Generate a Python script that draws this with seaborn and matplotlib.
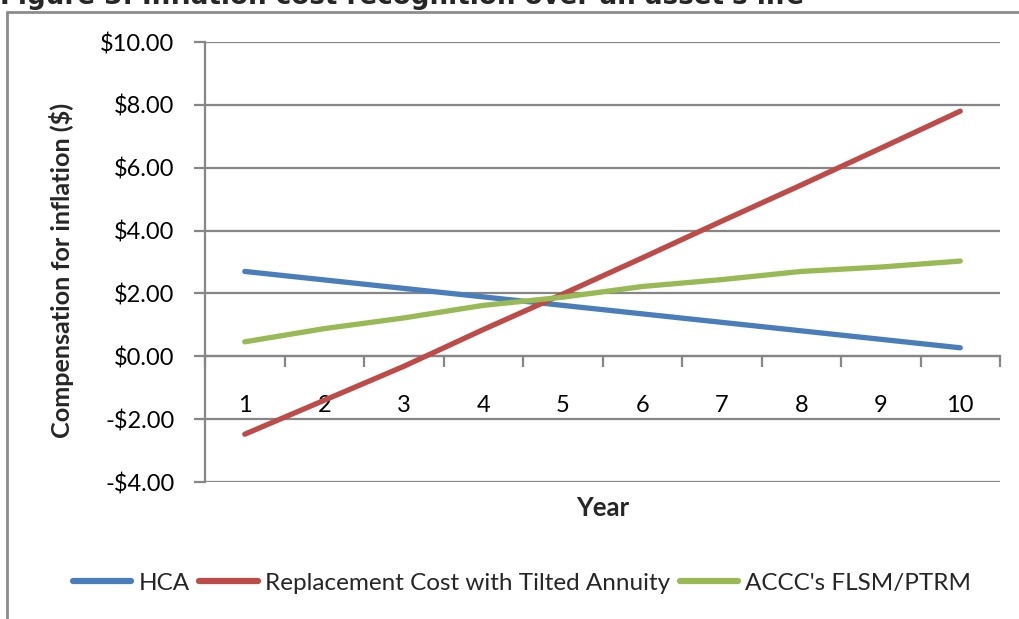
import matplotlib
matplotlib.use("Agg")
import matplotlib.pyplot as plt
from matplotlib.lines import Line2D
from matplotlib.patches import Rectangle
import numpy as np
import pandas as pd
import seaborn as sns

# Yearly compensation for inflation under three regulatory approaches
years = list(range(1, 11))
hca = [2.70, 2.43, 2.16, 1.89, 1.62, 1.35, 1.08, 0.81, 0.54, 0.27]
replacement = [-2.48, -1.40, -0.32, 0.85, 1.98, 3.13, 4.30, 5.45, 6.62, 7.80]
accc = [0.46, 0.88, 1.22, 1.62, 1.88, 2.22, 2.44, 2.70, 2.84, 3.03]

series_names = ["HCA", "Replacement Cost with Tilted Annuity", "ACCC's FLSM/PTRM"]
series_colors = ["#4A7EBB", "#BE4B48", "#98B954"]
y_ticks = [-4, -2, 0, 2, 4, 6, 8, 10]

title = "Figure 3: Inflation cost recognition over an asset's life"
y_title = "Compensation for inflation ($)"
x_title = "Year"

df = pd.DataFrame({
    "Year": years * 3,
    "Value": hca + replacement + accc,
    "Series": [n for n in series_names for _ in years],
})

sns.set_theme(style="white")
plt.rcParams["font.family"] = ["Lato", "DejaVu Sans"]

W, H = 1020, 619
fig = plt.figure(figsize=(W / 100, H / 100), dpi=100)
ax = fig.add_axes([205 / W, 1 - 482 / H, (1000 - 205) / W, (482 - 42) / H])

sns.lineplot(data=df, x="Year", y="Value", hue="Series", palette=series_colors,
             hue_order=series_names, linewidth=3.8, ax=ax, legend=False,
             solid_capstyle="round", zorder=3)

grid_c = "#868686"
ax.set_xlim(0.5, 10.5)
ax.set_ylim(-4, 10)
ax.set_yticks(y_ticks)
ax.set_yticklabels([("-$%.2f" % -v) if v < 0 else ("$%.2f" % v) for v in y_ticks])
ax.yaxis.grid(True, color=grid_c, linewidth=1.6)
ax.set_axisbelow(True)

for s in ["top", "right"]:
    ax.spines[s].set_visible(False)
ax.spines["left"].set_color(grid_c)
ax.spines["left"].set_linewidth(1.6)
ax.spines["bottom"].set_color(grid_c)
ax.spines["bottom"].set_linewidth(1.6)
ax.spines["bottom"].set_position(("data", 0))

# Category boundaries carry the tick marks, category centres carry the labels
ax.set_xticks(np.arange(0.5, 11, 1.0))
ax.set_xticklabels([])
ax.set_xticks(years, minor=True)
ax.set_xticklabels([str(y) for y in years], minor=True)
ax.tick_params(axis="x", which="major", direction="out", length=8, width=1.6,
               color=grid_c, bottom=True)
ax.tick_params(axis="x", which="minor", length=0, pad=28, labelsize=17,
               labelcolor="black")
ax.tick_params(axis="y", direction="out", length=8, width=1.6, color=grid_c,
               left=True, pad=14, labelsize=17, labelcolor="black")
ax.set_xlabel("")
ax.set_ylabel("")

fig.text(62 / W, 1 - 270 / H, y_title, rotation=90, ha="center", va="center",
         fontsize=18.2, fontweight="bold")
fig.text(603 / W, 1 - 508 / H, x_title, ha="center", va="center",
         fontsize=18.5, fontweight="bold")

# Chart area frame
fig.patches.append(Rectangle((7 / W, -0.1), 1.2, 1 - 12 / H + 0.1,
                             transform=fig.transFigure, fill=False,
                             edgecolor="#8C8C8C", linewidth=2))

fig.text(0, 1 - 4 / H, title, ha="left", va="baseline", fontsize=18.8,
         fontweight="bold", family="DejaVu Sans")

handles = [Line2D([], [], color=c, linewidth=4.5, solid_capstyle="round")
           for c in series_colors]
fig.legend(handles, series_names, loc="center", bbox_to_anchor=(522 / W, 1 - 583 / H),
           ncol=3, frameon=False, fontsize=17.5, handlelength=2.4,
           handletextpad=0.3, columnspacing=0.4)

fig.savefig("out.png", dpi=100)
